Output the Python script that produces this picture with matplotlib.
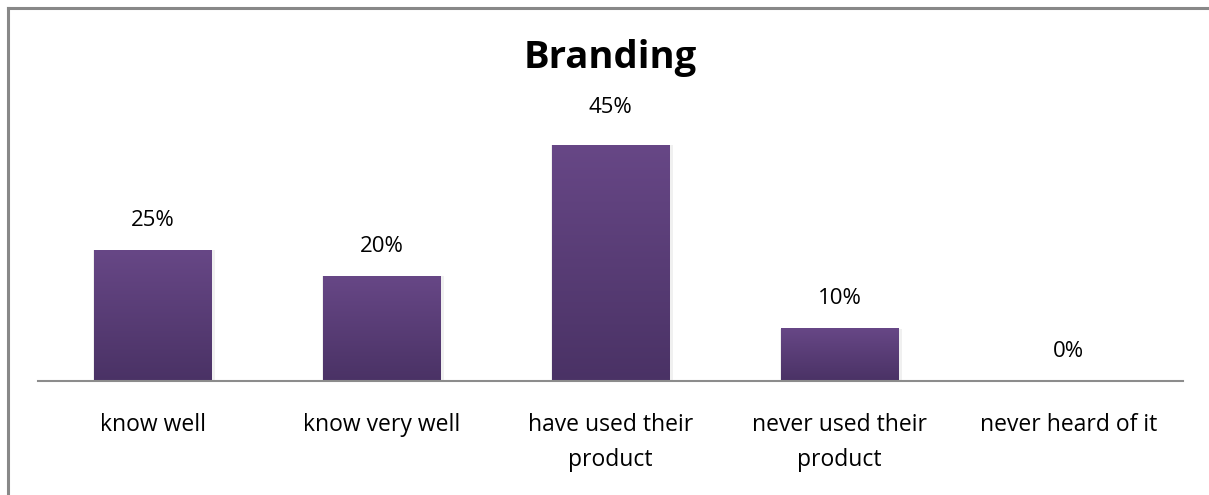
import numpy as np
import matplotlib.pyplot as plt
from matplotlib.colors import LinearSegmentedColormap
from matplotlib.lines import Line2D

categories = ["know well", "know very well", "have used their\nproduct",
              "never used their\nproduct", "never heard of it"]
values = [25, 20, 45, 10, 0]

W, H = 1209, 495
fig = plt.figure(figsize=(W / 100, H / 100), dpi=100)
plt.rcParams['font.family'] = ['Open Sans', 'DejaVu Sans']

# plot area in pixels
x0, x1 = 38, 1183
y_axis = 381
ymax = 50
px_per_unit = 5.24
ax = fig.add_axes([x0 / W, (H - y_axis) / H, (x1 - x0) / W,
                   ymax * px_per_unit / H])

n = len(categories)
xs = np.arange(n)
width = 0.515
ax.set_xlim(-0.5, n - 0.5)
ax.set_ylim(0, ymax)

grad = LinearSegmentedColormap.from_list("bar", ["#4a3265", "#674786"])
g = np.linspace(0, 1, 256).reshape(-1, 1)

for x, v in zip(xs, values):
    if v <= 0:
        continue
    # faint shadow behind each bar
    ax.bar(x + 0.006, v, width + 0.02, color="#000000", alpha=0.06, zorder=1)
    ax.imshow(g, cmap=grad, origin="lower", aspect="auto",
              extent=(x - width / 2, x + width / 2, 0, v), zorder=2)

# the tallest label sits a bit higher
extra = {2: 6}
for i, (x, v) in enumerate(zip(xs, values)):
    ax.annotate(f"{v}%", (x, v), xytext=(0, 21.5 + extra.get(i, 0)),
                textcoords="offset points", ha="center", va="center",
                fontsize=16, color="#000000")

ax.set_xticks(xs)
ax.set_xticklabels(categories, fontsize=16.5, linespacing=1.6)
ax.tick_params(axis="x", length=0, pad=23)
ax.set_yticks([])
for s in ["top", "right", "left"]:
    ax.spines[s].set_visible(False)
ax.spines["bottom"].set_color("#8c8c8c")
ax.spines["bottom"].set_linewidth(1.5)
ax.set_xlim(-0.5, n - 0.5)

fig.text(610 / W, 1 - 58 / H, "Branding", ha="center", va="center",
         fontsize=27.5, fontweight="bold")

# chart frame on the top and left edges
fig.add_artist(Line2D([8 / W, 1], [1 - 8 / H, 1 - 8 / H], color="#888888",
                      lw=2.2, transform=fig.transFigure))
fig.add_artist(Line2D([8 / W, 8 / W], [0, 1 - 8 / H], color="#888888",
                      lw=2.2, transform=fig.transFigure))

fig.savefig("out.png", dpi=100)
